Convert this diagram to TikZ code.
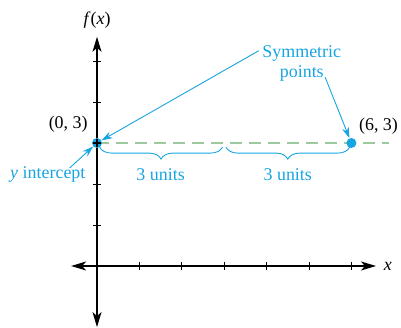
\documentclass[tikz,border=0pt]{standalone}
\usepackage{fontspec}
\setmainfont{Liberation Serif}
\usepackage{tikz}
\usetikzlibrary{arrows.meta,positioning,calc,decorations.pathreplacing}
\definecolor{callblue}{HTML}{16A4E2}
\definecolor{dashgreen}{HTML}{9CC99D}

\begin{document}
\begin{tikzpicture}[x=42.4bp,y=41bp,
  every node/.style={font=\fontsize{18}{20}\selectfont},
  axis/.style={line width=1.1pt,{Stealth[length=15bp,width=9bp,inset=4bp]}-{Stealth[length=15bp,width=9bp,inset=4bp]}},
  tick/.style={line width=0.9pt},
  dot/.style={circle,fill=callblue,inner sep=0pt,minimum size=10bp},
  lbl/.style={text=callblue,inner sep=1pt,align=center},
  call/.style={draw=callblue,line width=0.9pt,-{Stealth[length=11bp,width=7bp]}},
  brc/.style={draw=callblue,line width=0.9pt,decorate,decoration={brace,mirror,amplitude=12bp}}]
\useasboundingbox (-2.288,-1.512) rectangle (7.170,6.488);

\draw[axis] (-0.61,0) -- (6.58,0);
\draw[axis] (0,-1.49) -- (0,5.59);
\foreach \i in {1,...,6} \draw[tick] (\i,0.1) -- (\i,-0.1);
\foreach \j in {1,...,5} \draw[tick] (0.1,\j) -- (-0.1,\j);
\node (xl) at (6.86,0) {\textit{x}};
\node (fl) at (0,6.0) {\textit{f}(\textit{x})};

\draw[dashgreen,line width=2.2pt,dash pattern=on 12bp off 7bp] (0,3) -- (6.89,3);

\node[dot] (p0) at (0,3) {};
\node[dot] (p6) at (6,3) {};
\draw[line width=1.1pt] (-0.1,3) -- (0.1,3) (0,2.9) -- (0,3.1);
\node (l0) at (-0.68,3.46) {(0, 3)};
\node (l6) at (6.64,3.42) {(6, 3)};

\draw[brc] (0.06,2.9) -- (2.96,2.9);
\draw[brc] (3.04,2.9) -- (5.96,2.9);
\node[lbl] (u1) at (1.5,2.22) {3 units};
\node[lbl] (u2) at (4.5,2.22) {3 units};

\node[lbl] (sym) at (4.83,4.95) {Symmetric\\points};
\node[lbl] (yint) at (-1.16,2.22) {\textit{y} intercept};

\draw[call] ([shift={(-0.06,0.3)}]sym.west) -- (p0);
\draw[call] ([shift={(0.55,0.12)}]sym.south) -- (p6);
\draw[call] ([shift={(-0.4,-0.05)}]yint.north east) -- (p0);
\end{tikzpicture}
\end{document}
